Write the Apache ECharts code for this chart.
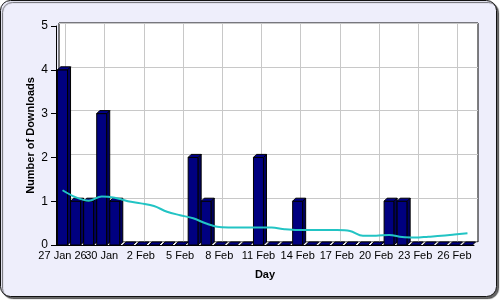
<!DOCTYPE html>
<html><head><meta charset="utf-8">
<script src="https://cdn.jsdelivr.net/npm/echarts@6/dist/echarts.min.js"></script>
<style>html,body{margin:0;padding:0;background:#fff}#c{width:500px;height:300px}</style>
</head><body><div id="c"></div>
<script>
const days = ["27 Jan","28 Jan","29 Jan","30 Jan","31 Jan","1 Feb","2 Feb","3 Feb","4 Feb","5 Feb","6 Feb","7 Feb","8 Feb","9 Feb","10 Feb","11 Feb","12 Feb","13 Feb","14 Feb","15 Feb","16 Feb","17 Feb","18 Feb","19 Feb","20 Feb","21 Feb","22 Feb","23 Feb","24 Feb","25 Feb","26 Feb","27 Feb"];
const downloads = [4,1,1,3,1,0,0,0,0,0,2,1,0,0,0,2,0,0,1,0,0,0,0,0,0,1,1,0,0,0,0,0];
const movingAvg = [1.25,1.09,1.01,1.11,1.08,1.0,0.95,0.89,0.76,0.68,0.61,0.49,0.41,0.40,0.40,0.40,0.40,0.36,0.34,0.34,0.34,0.34,0.32,0.21,0.21,0.23,0.18,0.17,0.19,0.21,0.24,0.27];
const tickLabels = ["27 Jan 26","30 Jan","2 Feb","5 Feb","8 Feb","11 Feb","14 Feb","17 Feb","20 Feb","23 Feb","26 Feb"];

const font = "Liberation Sans";
const chart = echarts.init(document.getElementById('c'), null, {renderer:'canvas'});
const D = 3;
const lblBase = {interval:2,hideOverlap:false,color:'#000',fontFamily:font,fontSize:11,margin:5};
const option = {
  animation:false,
  backgroundColor:'transparent',
  graphic:[{type:'rect', z:-10, silent:true,
    shape:{x:0.5,y:0.5,width:496,height:296,r:10},
    style:{fill:'#eeeefb', stroke:'#111', lineWidth:1, shadowColor:'rgba(0,0,0,0.6)', shadowOffsetX:2, shadowOffsetY:2, shadowBlur:1}}],
  grid:[
    {left:56,right:26,top:26,bottom:55},
    {left:59,right:22,top:23,bottom:58,show:true,backgroundColor:'#fff',borderColor:'#000',borderWidth:1},
    {left:65.5,right:29.6,top:23,bottom:58}
  ],
  xAxis:[
    {type:'category',gridIndex:0,data:days,boundaryGap:true,
     axisLine:{lineStyle:{color:'#000',width:1}},
     axisTick:{alignWithLabel:true,interval:2,length:4,lineStyle:{color:'#000'}},
     axisLabel:Object.assign({showMinLabel:false,formatter:(v,i)=>(i>0?(tickLabels[i/3]||''):'')},lblBase),
     name:'Day',nameLocation:'middle',nameGap:24,nameMoveOverlap:false,
     nameTextStyle:{fontFamily:font,fontSize:11,fontWeight:'bold',color:'#000'}},
    {type:'category',gridIndex:1,data:days,show:false},
    {type:'category',gridIndex:2,data:days,boundaryGap:false,
     axisLine:{show:false},axisTick:{show:false},axisLabel:{show:false},
     splitLine:{show:true,interval:2,lineStyle:{color:'#c8c8c8',width:1}}},
    {type:'category',gridIndex:0,data:days,boundaryGap:true,position:'bottom',
     axisLine:{show:false},axisTick:{show:false},splitLine:{show:false},
     axisLabel:Object.assign({showMinLabel:true,formatter:(v,i)=>(i===0?tickLabels[0]:'')},lblBase)}
  ],
  yAxis:[
    {type:'value',gridIndex:0,min:0,max:5,interval:1,
     axisLine:{show:true,lineStyle:{color:'#000'}},
     axisTick:{show:true,inside:false,length:5,lineStyle:{color:'#000'}},
     axisLabel:{color:'#000',fontFamily:font,fontSize:12,margin:8},
     splitLine:{show:false},
     name:'Number of Downloads',nameLocation:'middle',nameGap:20,nameRotate:90,nameMoveOverlap:false,
     nameTextStyle:{fontFamily:font,fontSize:11,fontWeight:'bold',color:'#000'}},
    {type:'value',gridIndex:1,min:0,max:5,interval:1,
     axisLine:{show:false},axisTick:{show:false},axisLabel:{show:false},
     splitLine:{show:true,lineStyle:{color:'#c8c8c8',width:1}}},
    {type:'value',gridIndex:2,min:0,max:5,interval:1,show:false}
  ],
  series:[
    {type:'custom',xAxisIndex:0,yAxisIndex:0,z:3,
     data:downloads.map((v,i)=>[i,v]),
     renderItem:function(params,api){
       const i=api.value(0), v=api.value(1);
       const p=api.coord([i,v]), p0=api.coord([i,0]);
       const w=10, xl=p[0]-w/2, xr=p[0]+w/2;
       const st={stroke:'#000',lineWidth:1};
       const children=[];
       if(p0[1]-p[1]>0.5){
         children.push({type:'rect',shape:{x:xl,y:p[1],width:w,height:p0[1]-p[1]},style:Object.assign({fill:'#000080'},st)});
         children.push({type:'polygon',shape:{points:[[xr,p[1]],[xr+D,p[1]-D],[xr+D,p0[1]-D],[xr,p0[1]]]},style:Object.assign({fill:'#000060'},st)});
       }
       children.push({type:'polygon',shape:{points:[[xl,p[1]],[xl+D,p[1]-D],[xr+D,p[1]-D],[xr,p[1]]]},style:Object.assign({fill:'#000088'},st)});
       return {type:'group',children:children};
     }},
    {type:'line',xAxisIndex:0,yAxisIndex:0,z:5,data:movingAvg,smooth:0.35,symbol:'none',
     lineStyle:{color:'#22c4c4',width:2}}
  ]
};
chart.setOption(option);
</script>
</body></html>
